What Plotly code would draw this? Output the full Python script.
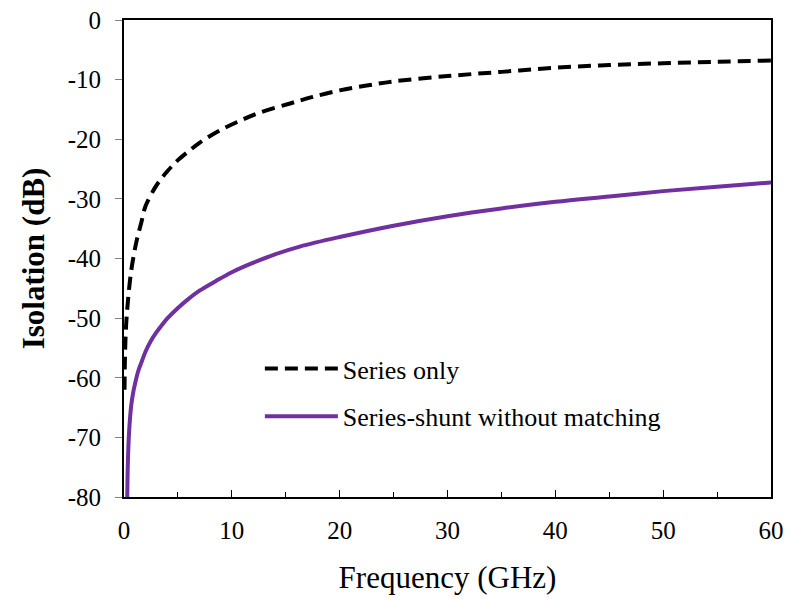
import plotly.graph_objects as go

# Series only (black dashed)
freq_series = [0.05, 0.07, 0.12, 0.2, 0.3, 0.45, 0.65, 0.9, 1.2, 1.6, 2.0, 2.85, 3.5, 4.1, 5.0, 6.0,
               7.0, 8.7, 10.5, 12.5, 15.4, 17.5, 20, 22.5, 25, 30, 35, 40, 45, 50, 55, 60]
iso_series = [-62, -58.5, -54.5, -51, -48.5, -45.5, -42.3, -39.5, -36.8, -34.0, -31.2, -28.2, -26.5,
              -25.2, -23.5, -22.0, -20.6, -18.7, -17.1, -15.6, -14.0, -12.9, -11.8, -11.0, -10.3,
              -9.4, -8.7, -8.0, -7.55, -7.25, -7.0, -6.8]

# Series-shunt without matching (purple)
freq_shunt = [0.3, 0.33, 0.38, 0.46, 0.55, 0.68, 0.85, 1.0, 1.3, 1.6, 2.0, 2.5, 3.0, 3.5, 4.0, 5.0,
              5.9, 7.0, 8.5, 10.0, 12.0, 14.0, 16.3, 20, 25, 30, 35, 40, 45, 50, 55, 60]
iso_shunt = [-80, -76.5, -73, -69.5, -67, -64.5, -62.5, -61.2, -59.0, -57.5, -55.6, -53.8, -52.4, -51.2,
             -50.1, -48.3, -46.9, -45.4, -43.8, -42.3, -40.7, -39.3, -38.0, -36.4, -34.5, -32.9,
             -31.6, -30.5, -29.6, -28.7, -27.95, -27.25]

x_ticks = [0, 10, 20, 30, 40, 50, 60]
y_ticks = [0, -10, -20, -30, -40, -50, -60, -70, -80]

font_family = "Liberation Serif"

fig = go.Figure()
fig.add_trace(go.Scatter(
    x=freq_series, y=iso_series, mode="lines", name="Series only",
    line=dict(color="black", width=4, dash="13px,7px", shape="spline", smoothing=1.0),
    legendgroup="a",
))
fig.add_trace(go.Scatter(
    x=freq_shunt, y=iso_shunt, mode="lines", name="Series-shunt without matching",
    line=dict(color="#7030A0", width=4, shape="spline", smoothing=1.0),
    legendgroup="b",
))

fig.update_layout(
    width=789, height=601,
    margin=dict(l=124, r=18, t=20, b=104, autoexpand=False),
    paper_bgcolor="white", plot_bgcolor="white",
    font=dict(family=font_family, color="black", size=25),
    legend=dict(
        x=0.210, y=0.3187, xanchor="left", yanchor="top",
        font=dict(size=26, family=font_family),
        bgcolor="rgba(0,0,0,0)", traceorder="grouped", tracegroupgap=11,
        itemwidth=73,
    ),
    showlegend=True,
)
fig.update_xaxes(
    range=[0, 60], tickvals=x_ticks, ticktext=[str(v) for v in x_ticks],
    showgrid=False, zeroline=False, automargin=False,
    showline=True, linecolor="black", linewidth=2, mirror=True,
    ticks="inside", ticklen=7, tickcolor="black", tickwidth=1,
    minor=dict(dtick=5, ticks="inside", ticklen=5, tickcolor="black", showgrid=False),
    tickfont=dict(size=25, family=font_family), ticklabelstandoff=10,
    ticklabeloverflow="allow",
    title=dict(text="Frequency (GHz)", font=dict(size=31, family=font_family), standoff=23),
)
fig.update_yaxes(
    range=[-80, 0], tickvals=y_ticks, ticktext=[str(v) for v in y_ticks],
    showgrid=False, zeroline=False, automargin=False,
    showline=True, linecolor="black", linewidth=2, mirror=True,
    ticks="outside", ticklen=7, tickcolor="gray", tickwidth=1,
    tickfont=dict(size=25, family=font_family), ticklabelstandoff=9,
    ticklabeloverflow="allow",
    title=dict(text="<b>Isolation (dB)</b>", font=dict(size=31, family=font_family), standoff=14),
)

fig.write_html("out.html", config={"displayModeBar": False},
               post_script="document.body.style.margin='0px';")
